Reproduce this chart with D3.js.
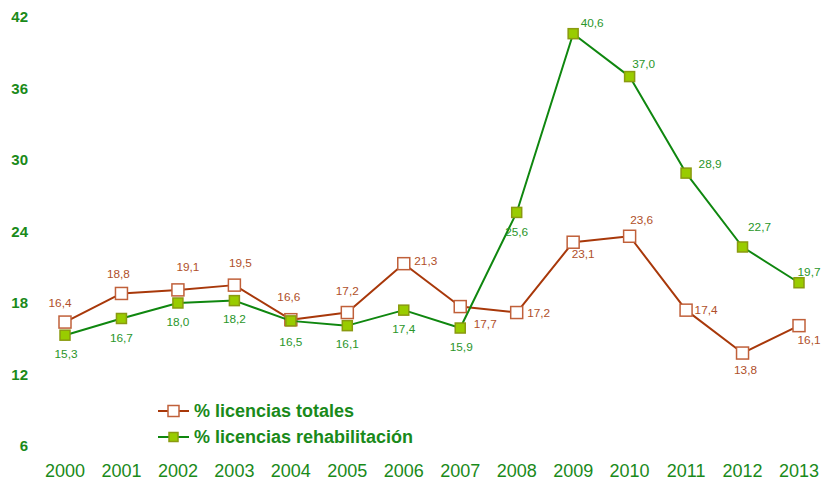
<!DOCTYPE html>
<html>
<head>
<meta charset="utf-8">
<script src="https://cdn.jsdelivr.net/npm/d3@7"></script>
<style>
  body { margin: 0; background: #fff; }
  svg text { font-family: "Liberation Sans", Arial, sans-serif; }
</style>
</head>
<body>
<div id="chart"></div>
<script>
// data
var years = ["2000","2001","2002","2003","2004","2005","2006","2007","2008","2009","2010","2011","2012","2013"];
var totales = [16.4, 18.8, 19.1, 19.5, 16.6, 17.2, 21.3, 17.7, 17.2, 23.1, 23.6, 17.4, 13.8, 16.1];
var rehab = [15.3, 16.7, 18.0, 18.2, 16.5, 16.1, 17.4, 15.9, 25.6, 40.6, 37.0, 28.9, 22.7, 19.7];
var yTicks = [6, 12, 18, 24, 30, 36, 42];

// label centre offsets from each marker (layout only)
var totLabelDx = [-5, -3, 10, 6, -2, 0, 22, 25, 22, 10, 12, 20, 3, 10];
var totLabelDy = [-19, -20, -23, -22, -23, -22, -3, 17, 0, 12, -16, 0, 17, 14];
var rehLabelDx = [1, 0, 0, 0, 0, 0, 0, 1, 0, 19, 14, 24, 17, 10];
var rehLabelDy = [19, 19, 19, 18, 21, 18, 19, 19, 19, -11, -13, -9, -20, -11];

var W = 822, H = 484;
var svg = d3.select("#chart").append("svg")
  .attr("width", W)
  .attr("height", H);

var x = d3.scalePoint()
  .domain(years)
  .range([65, 799]);

var y = d3.scaleLinear()
  .domain([6, 42])
  .range([446, 17]);

// y labels
svg.append("g").selectAll("text")
  .data(yTicks)
  .enter().append("text")
  .attr("x", 28)
  .attr("y", function (d) { return y(d); })
  .attr("dy", "0.35em")
  .attr("text-anchor", "end")
  .attr("font-size", 15)
  .attr("font-weight", "bold")
  .attr("fill", "#1a8a1a")
  .text(function (d) { return d; });

// x labels
svg.append("g").selectAll("text")
  .data(years)
  .enter().append("text")
  .attr("x", function (d) { return x(d); })
  .attr("y", 477)
  .attr("text-anchor", "middle")
  .attr("font-size", 18)
  .attr("fill", "#1a8a1a")
  .text(function (d) { return d; });

var line = d3.line()
  .x(function (d, i) { return x(years[i]); })
  .y(function (d) { return y(d); });

function drawSeries(vals, ldx, ldy, lineColor, fill, stroke, size, labelColor) {
  svg.append("path")
    .datum(vals)
    .attr("fill", "none")
    .attr("stroke", lineColor)
    .attr("stroke-width", 2)
    .attr("stroke-linejoin", "round")
    .attr("d", line);

  svg.append("g").selectAll("rect")
    .data(vals)
    .enter().append("rect")
    .attr("x", function (d, i) { return x(years[i]) - size / 2; })
    .attr("y", function (d) { return y(d) - size / 2; })
    .attr("width", size)
    .attr("height", size)
    .attr("fill", fill)
    .attr("stroke", stroke)
    .attr("stroke-width", 1.5);

  svg.append("g").selectAll("text")
    .data(vals)
    .enter().append("text")
    .attr("x", function (d, i) { return x(years[i]) + ldx[i]; })
    .attr("y", function (d, i) { return y(d) + ldy[i]; })
    .attr("dy", "0.35em")
    .attr("text-anchor", "middle")
    .attr("font-size", 11.8)
    .attr("fill", labelColor)
    .text(function (d) { return d.toFixed(1).replace(".", ","); });
}

drawSeries(totales, totLabelDx, totLabelDy, "#a8380a", "#ffffff", "#c0603a", 12, "#b0502a");
drawSeries(rehab, rehLabelDx, rehLabelDy, "#0f870f", "#99cc00", "#8a9a10", 10, "#2a962a");

// legend
var legend = [
  { name: "% licencias totales", line: "#a8380a", fill: "#ffffff", stroke: "#c0603a", size: 11 },
  { name: "% licencias rehabilitación", line: "#0f870f", fill: "#99cc00", stroke: "#8a9a10", size: 9 }
];
var lg = svg.append("g").selectAll("g")
  .data(legend)
  .enter().append("g")
  .attr("transform", function (d, i) { return "translate(158," + (411 + i * 26) + ")"; });

lg.append("line")
  .attr("x1", 0).attr("x2", 31)
  .attr("stroke", function (d) { return d.line; })
  .attr("stroke-width", 2);
lg.append("rect")
  .attr("x", function (d) { return 15.5 - d.size / 2; })
  .attr("y", function (d) { return -d.size / 2; })
  .attr("width", function (d) { return d.size; })
  .attr("height", function (d) { return d.size; })
  .attr("fill", function (d) { return d.fill; })
  .attr("stroke", function (d) { return d.stroke; })
  .attr("stroke-width", 1.5);
lg.append("text")
  .attr("x", 36)
  .attr("dy", "0.35em")
  .attr("font-size", 18)
  .attr("font-weight", "bold")
  .attr("fill", "#1a8a1a")
  .text(function (d) { return d.name; });
</script>
</body>
</html>
